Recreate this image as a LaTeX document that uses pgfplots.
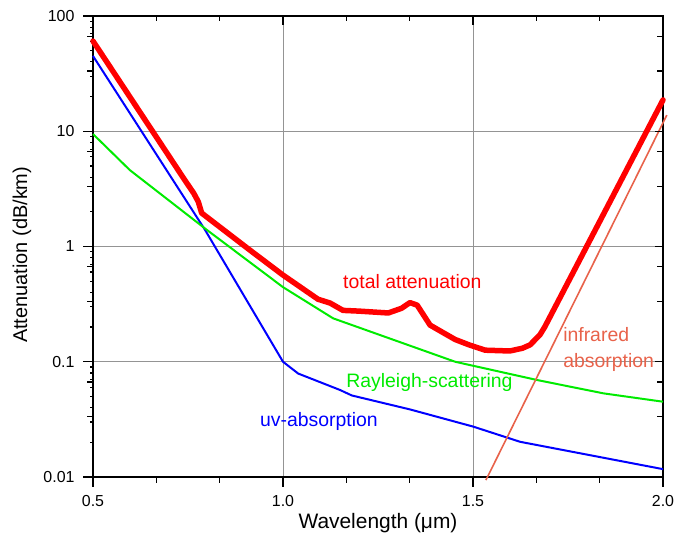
\documentclass[border=0pt]{standalone}
\usepackage{pgfplots}
\pgfplotsset{compat=1.18}
\usepackage{fontspec}
\setmainfont{Liberation Sans}
\definecolor{tot}{RGB}{255,0,0}
\definecolor{uv}{RGB}{0,0,255}
\definecolor{ray}{RGB}{0,235,0}
\definecolor{ir}{RGB}{232,98,74}
\begin{document}
\begin{tikzpicture}
\path[use as bounding box] (0,0) rectangle (676bp,538bp);
\begin{axis}[ymode=log,
  at={(93bp,61bp)}, anchor=south west,
  scale only axis, width=570bp, height=461bp,
  xmin=0.5, xmax=2.0, ymin=0.01, ymax=100,
  xtick={0.5,1,1.5,2},
  ytick={0.01,0.1,1,10,100},
  major tick length=10bp,
  tick style={black, line width=1.2bp},
  axis line style={black, line width=1.6bp},
  tick label style={font=\fontsize{16}{16}\selectfont},
  label style={font=\fontsize{20}{20}\selectfont},
  xtick pos=left, ytick pos=left, tick align=outside,
  xticklabel shift=5bp, yticklabel shift=5bp,
  clip=false, grid=major, grid style={black!42, line width=0.8bp},
  xticklabels={0.5,1.0,1.5,2.0},
  yticklabels={0.01,0.1,1,10,100},
  xlabel={Wavelength (μm)}, ylabel={Attenuation (dB/km)},
  xlabel style={at={(0.5,0)}, anchor=base, yshift=-51bp, font=\fontsize{21}{21}\selectfont},
  ylabel style={at={(-0.1246,0.482)}, anchor=center},
]
% total attenuation
\addplot[tot, line width=5.5bp, line cap=round, line join=round] coordinates {
(0.5,60.6) (0.742,3.75) (0.765,2.9) (0.777,2.45) (0.786,1.95)
(0.913,0.93) (1.0,0.565) (1.092,0.349) (1.124,0.323) (1.158,0.279)
(1.200,0.275) (1.277,0.265) (1.312,0.291) (1.334,0.326) (1.353,0.31)
(1.387,0.208) (1.420,0.180) (1.453,0.156) (1.490,0.140) (1.532,0.126)
(1.597,0.124) (1.630,0.131) (1.650,0.140) (1.676,0.171) (1.689,0.201)
(2.0,18.7)
};
% uv absorption
\addplot[uv, line width=2bp] coordinates {
(0.5,45) (0.795,1.39) (1.0,0.1) (1.04,0.079)
(1.15,0.0569) (1.181,0.051) (1.334,0.0386) (1.5,0.0274) (1.624,0.0202) (2.0,0.0117)
};
% Rayleigh scattering
\addplot[ray, line width=2bp] coordinates {
(0.5,9.46) (0.597,4.6) (0.8,1.39) (1.0,0.444) (1.132,0.238) (1.453,0.1)
(1.668,0.0695) (1.843,0.0532) (2.0,0.045)
};
% infrared absorption
\addplot[ir, line width=1.6bp] coordinates {
(1.534,0.0094) (2.01,13.8)
};
\node[anchor=base west, inner sep=0, text=tot, font=\fontsize{19.5}{19.5}\selectfont] at (axis cs:1.158,0.428) {total attenuation};
\node[anchor=base west, inner sep=0, text=ir, font=\fontsize{19.5}{19.5}\selectfont] at (axis cs:1.737,0.151) {infrared};
\node[anchor=base west, inner sep=0, text=ir, font=\fontsize{19.5}{19.5}\selectfont] at (axis cs:1.737,0.090) {absorption};
\node[anchor=base west, inner sep=0, text=ray, font=\fontsize{19.5}{19.5}\selectfont] at (axis cs:1.166,0.0592) {Rayleigh-scattering};
\node[anchor=base west, inner sep=0, text=uv, font=\fontsize{19.5}{19.5}\selectfont] at (axis cs:0.939,0.0272) {uv-absorption};
% tick marks (outward bottom/left, inward top/right)
\pgfplotsinvokeforeach{0.5,1.0,1.5,2.0}{
  \draw[black, line width=1.2bp] (axis cs:#1,0.01) -- (axis cs:#1,0.00835);
  \draw[black, line width=1.2bp] (axis cs:#1,100) -- (axis cs:#1,83.5);
}
\pgfplotsinvokeforeach{0.6667,0.8333,1.1667,1.3333,1.6667,1.8333}{
  \draw[black, line width=1.2bp] (axis cs:#1,0.01) -- (axis cs:#1,0.00896);
  \draw[black, line width=1.2bp] (axis cs:#1,100) -- (axis cs:#1,89.6);
}
\pgfplotsinvokeforeach{0.01,0.1,1,10,100}{
  \draw[black, line width=1.2bp] (axis cs:0.5,#1) -- (axis cs:0.4737,#1);
  \draw[black, line width=1.2bp] (axis cs:2.0,#1) -- (axis cs:1.9789,#1);
}
\pgfplotsinvokeforeach{0.03333,0.06667,0.3333,0.6667,3.333,6.667,33.33,66.67}{
  \draw[black, line width=1.2bp] (axis cs:0.5,#1) -- (axis cs:0.4855,#1);
  \draw[black, line width=1.2bp] (axis cs:2.0,#1) -- (axis cs:1.9855,#1);
}
\end{axis}
\end{tikzpicture}
\end{document}
